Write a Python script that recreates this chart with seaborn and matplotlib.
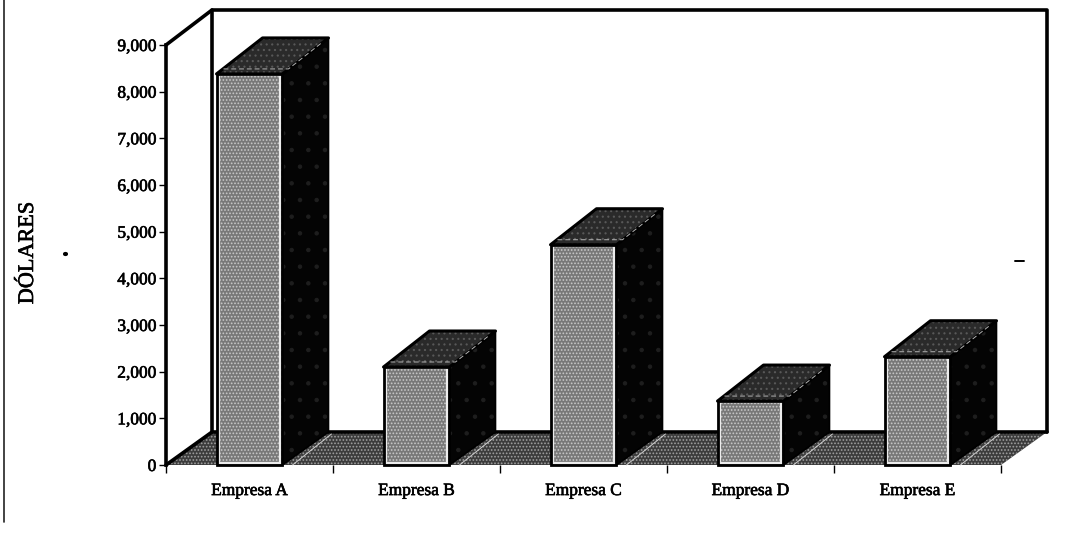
import matplotlib
matplotlib.use("Agg")
import matplotlib.pyplot as plt
import matplotlib.patheffects as pe
import matplotlib.ticker as mticker
from matplotlib.patches import Polygon
import pandas as pd
import seaborn as sns

companies = ["Empresa A", "Empresa B", "Empresa C", "Empresa D", "Empresa E"]
dollars = [8380, 2100, 4720, 1370, 2320]
y_ticks = [0, 1000, 2000, 3000, 4000, 5000, 6000, 7000, 8000, 9000]

W, H = 1074, 556
LEFT, RIGHT, BASE, TOP = 166, 1001, 465, 45
PX_X, PX_Y = 1 / 167, 9000 / 420               # data units per pixel
DEPTH_X, DEPTH_Y = 46 * PX_X, 33 * PX_Y        # oblique depth of the floor
TOP_DEPTH = 36 * PX_Y                          # oblique rise of a bar's top
BAR_WIDTH = 0.395

FRONT, TOPFACE, SIDE, FLOOR = "#787878", "#2a2a2a", "#040404", "#3c3c3c"

sns.set_theme(style="white")
plt.rcParams["font.family"] = ["Liberation Serif", "DejaVu Serif"]
plt.rcParams["hatch.linewidth"] = 0.8

fig = plt.figure(figsize=(W / 100, H / 100), dpi=100, facecolor="white")
ax = fig.add_axes([LEFT / W, 1 - BASE / H, (RIGHT - LEFT) / W, (BASE - TOP) / H])

df = pd.DataFrame({"company": companies, "dollars": dollars})
sns.barplot(data=df, x="company", y="dollars", color=FRONT, saturation=1,
            width=BAR_WIDTH, linewidth=0, ax=ax, zorder=5)
ax.set_xlim(-0.5, 4.5)
ax.set_ylim(0, 9000)

x0, x1 = ax.get_xlim()
y1 = ax.get_ylim()[1]


def face(points, **kw):
    patch = Polygon(points, closed=True, clip_on=False, **kw)
    ax.add_patch(patch)
    return patch


# Back wall, floor and the oblique frame edges
face([(x0, 0), (x0 + DEPTH_X, DEPTH_Y), (x1 + DEPTH_X, DEPTH_Y), (x1, 0)],
     facecolor=FLOOR, edgecolor="#a0a0a0", hatch=".....", lw=0, zorder=1)
frame = dict(color="black", lw=2.6, clip_on=False, zorder=2, solid_capstyle="round")
wall_top = y1 + 35 * PX_Y
ax.plot([x0, x0 + DEPTH_X, x1 + DEPTH_X, x1 + DEPTH_X],
        [y1, wall_top, wall_top, DEPTH_Y], **frame)
ax.plot([x0 + DEPTH_X] * 2, [wall_top, DEPTH_Y], **frame)
ax.plot([x0, x0 + DEPTH_X, x1 + DEPTH_X], [0, DEPTH_Y, DEPTH_Y], **frame)

# Extrude every bar backwards: dark side, dark top, black outline
for bar in list(ax.containers[0]):
    bx, bw, bh = bar.get_x(), bar.get_width(), bar.get_height()
    bar.set_hatch(".....")
    bar.set_edgecolor("#c8c8c8")
    bar.set_linewidth(0)
    r = bx + bw
    side = [(r, 0), (r + DEPTH_X, DEPTH_Y), (r + DEPTH_X, bh + TOP_DEPTH), (r, bh)]
    roof = [(bx, bh), (bx + DEPTH_X, bh + TOP_DEPTH), (r + DEPTH_X, bh + TOP_DEPTH), (r, bh)]
    face(side, facecolor=SIDE, edgecolor="#1e1e1e", hatch=".", lw=0, zorder=3)
    face(side, fill=False, edgecolor="black", lw=1.2, zorder=4, joinstyle="round")
    face(roof, facecolor=TOPFACE, edgecolor="#585858", hatch="...", lw=0, zorder=3)
    face(roof, fill=False, edgecolor="black", lw=2.2, zorder=4, joinstyle="round")
    # faint inner rim of the top face and the light edge of the floor strip
    rim_y = bh + 5 * PX_Y
    ax.plot([bx + 7 * PX_X, r + 6 * PX_X, r + DEPTH_X - 7 * PX_X],
            [rim_y, rim_y, bh + TOP_DEPTH - 5 * PX_Y],
            color="#b4b4b4", lw=0.7, ls=(0, (5, 3)), clip_on=False, zorder=4)
    ax.plot([r + 10 * PX_X, r + DEPTH_X + 3 * PX_X], [0, DEPTH_Y - 2 * PX_Y],
            color="#d0d0d0", lw=0.7, clip_on=False, zorder=2)
    # light rim on the front face, then its black outline
    ax.add_patch(plt.Rectangle((bx + 0.012, 40), bw - 0.024, bh - 70, fill=False,
                               edgecolor="#ececec", lw=1.6, clip_on=False, zorder=6))
    ax.add_patch(plt.Rectangle((bx, 0), bw, bh, fill=False, edgecolor="black",
                               lw=2.0, clip_on=False, zorder=7))

# Axes furniture
for spine in ("top", "right", "bottom"):
    ax.spines[spine].set_visible(False)
ax.spines["left"].set_linewidth(2.6)
ax.spines["left"].set_color("black")
ax.set_yticks(y_ticks)
ax.yaxis.set_major_formatter(mticker.StrMethodFormatter("{x:,.0f}"))
ax.set_xticks(range(len(companies)))
ax.set_xticklabels(companies)
ax.set_xticks([k - 0.5 for k in range(len(companies) + 1)], minor=True)
ax.tick_params(axis="x", which="major", length=0, labelsize=12.5, pad=13, colors="black")
ax.tick_params(axis="x", which="minor", length=6, width=1, bottom=True, color="black")
ax.tick_params(axis="y", length=5, width=1, left=True, labelsize=12.5, pad=2, colors="black")
ax.set_xlabel("")
ax.set_ylabel("")

heavier = [pe.withStroke(linewidth=0.45, foreground="black")]
for label in ax.get_xticklabels() + ax.get_yticklabels():
    label.set_path_effects(heavier)
fig.text(28.5 / W, 1 - 253 / H, "DÓLARES", rotation=90, fontsize=16, ha="center",
         va="center", color="black", path_effects=heavier)

# Outer rule down the left of the page, and the two small marks beside the plot
fig.add_artist(plt.Line2D([3.5 / W, 3.5 / W], [1, 1 - 522 / H], color="#222222", lw=1.2))
fig.add_artist(plt.Line2D([64.5 / W, 65.5 / W], [1 - 254 / H] * 2, color="black", lw=3))
fig.add_artist(plt.Line2D([1015 / W, 1024 / W], [1 - 261 / H] * 2, color="black", lw=1.4))
fig.savefig("out.png", dpi=100)
